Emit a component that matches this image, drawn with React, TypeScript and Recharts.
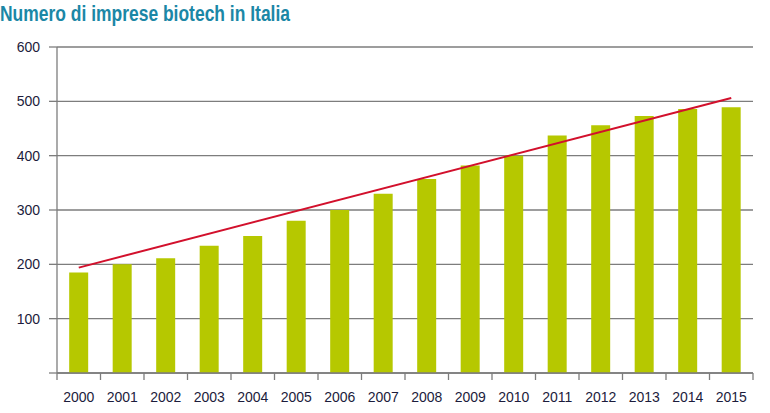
import { Bar, CartesianGrid, ComposedChart, Line, XAxis, YAxis } from "recharts";

const anni = ["2000", "2001", "2002", "2003", "2004", "2005", "2006", "2007", "2008", "2009", "2010", "2011", "2012", "2013", "2014", "2015"];
const imprese = [185, 200, 211, 234, 252, 280, 300, 330, 357, 382, 400, 437, 456, 473, 486, 489];
// trend line: only the two ends are known, the line joins them
const trend = [194, null, null, null, null, null, null, null, null, null, null, null, null, null, null, 506];
const yTicks = [0, 100, 200, 300, 400, 500, 600];

const data = anni.map((anno, i) => ({ anno, imprese: imprese[i], trend: trend[i] }));

const TEXT = "#1c1c3c";
const GRID = "#7d7d7d";
const FONT = "'Liberation Sans', Arial, sans-serif";

function YearTick(props: any) {
  const { x, y, payload, index } = props;
  const half = payload?.offset || 21.75;
  const left = x - half;
  const right = x + half;
  return (
    <g>
      <line x1={left} y1={y - 8} x2={left} y2={y - 1} stroke={GRID} strokeWidth={1.3} />
      {index === anni.length - 1 && <line x1={right} y1={y - 8} x2={right} y2={y - 1} stroke={GRID} strokeWidth={1.3} />}
      <text x={x} y={y + 21} textAnchor="middle" fontSize={14} fill={TEXT} fontFamily={FONT}>
        {payload.value}
      </text>
    </g>
  );
}

export default function App() {
  return (
    <div style={{ position: "absolute", left: 0, top: 0, width: 770, height: 413, background: "#fff" }}>
      <svg width={770} height={30} style={{ position: "absolute", left: 0, top: 0 }}>
        <text
          x={0}
          y={21}
          fontSize={22}
          fontWeight="bold"
          fill="#1b87a6"
          fontFamily="'Liberation Sans Narrow', 'Arial Narrow', sans-serif"
          textLength={290}
          lengthAdjust="spacingAndGlyphs"
        >
          Numero di imprese biotech in Italia
        </text>
      </svg>
      <ComposedChart
        width={770}
        height={413}
        data={data}
        margin={{ top: 47, right: 17, bottom: 0, left: 0 }}
        barCategoryGap="28%"
      >
        <CartesianGrid horizontal vertical={false} stroke={GRID} strokeWidth={1.3} strokeDasharray="" />
        <XAxis
          dataKey="anno"
          height={40}
          axisLine={{ stroke: GRID, strokeWidth: 1.3 }}
          tickLine={false}
          interval={0}
          tick={<YearTick />}
        />
        <YAxis
          width={57}
          domain={[0, 600]}
          ticks={yTicks}
          tickSize={8}
          tickMargin={9}
          axisLine={{ stroke: GRID, strokeWidth: 1.3 }}
          tickLine={{ stroke: GRID, strokeWidth: 1.3 }}
          tickFormatter={(v: number) => (v === 0 ? "" : String(v))}
          tick={{ fontSize: 14, fill: TEXT, fontFamily: FONT }}
        />
        <Bar dataKey="imprese" fill="#b6c800" isAnimationActive={false} />
        <Line
          dataKey="trend"
          stroke="#d2102c"
          strokeWidth={2}
          dot={false}
          connectNulls
          isAnimationActive={false}
        />
      </ComposedChart>
    </div>
  );
}
